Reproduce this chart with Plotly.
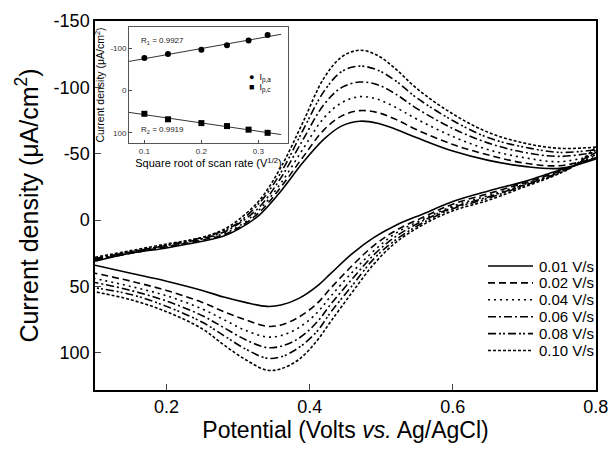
import numpy as np
import plotly.graph_objects as go

# ---------------- data ----------------
scan_rates = [0.01, 0.02, 0.04, 0.06, 0.08, 0.10]
series_labels = ["0.01 V/s", "0.02 V/s", "0.04 V/s", "0.06 V/s", "0.08 V/s", "0.10 V/s"]

# forward (anodic) sweep potentials, V
fwd_v = [0.10, 0.15, 0.20, 0.25, 0.28, 0.30, 0.33, 0.36, 0.39, 0.42, 0.445, 0.47,
         0.495, 0.52, 0.55, 0.60, 0.65, 0.70, 0.75, 0.80]
fwd_001 = [31, 25, 21, 16, 12, 7, -4, -22, -43, -61, -71, -74.5, -73, -68.5, -62, -52, -45, -40.5, -39, -46]
fwd_002 = [30, 25, 20, 15, 11, 6, -6, -25, -47, -68, -78.5, -82.5, -81, -76, -68, -57, -49, -43, -41, -47]
fwd_004 = [30, 24, 20, 14, 10, 5, -8, -28, -53, -77, -88.5, -93, -91, -85, -76, -63, -53, -47, -44, -49]
fwd_006 = [29, 24, 19, 14, 9, 3, -10, -32, -60, -87, -100, -104, -102, -95, -84, -69, -58, -51, -48, -51]
fwd_008 = [29, 24, 19, 13, 8, 2, -13, -36, -67, -97, -112, -116, -113, -105, -92, -75, -62, -55, -51, -53]
fwd_010 = [28, 23, 18, 13, 7, 0, -15, -40, -73, -107, -123, -128, -124, -114, -99, -80, -66, -58, -54, -55]

# reverse (cathodic) sweep potentials, V
rev_v = [0.80, 0.77, 0.74, 0.70, 0.65, 0.60, 0.56, 0.52, 0.49, 0.46, 0.43, 0.41, 0.385,
         0.36, 0.34, 0.31, 0.28, 0.25, 0.20, 0.15, 0.10]
rev_001 = [-46, -41, -36, -29, -22, -14, -5, 4, 13, 25, 40, 50, 59, 64, 65, 62, 58, 53, 46, 40, 34]
rev_002 = [-47, -41, -35, -28, -20, -12, -2.5, 8, 19, 34, 51, 63, 73, 79, 80, 75, 69, 62, 53, 46, 40]
rev_004 = [-49, -41, -34.5, -27, -18.5, -10.5, -1, 10, 23, 39, 57, 70, 81, 87, 88, 83, 75, 67, 57, 50, 44]
rev_006 = [-51, -41, -34, -26.5, -17.5, -9.5, 0, 12.5, 26, 44, 63, 77, 89, 95, 96, 90, 81, 72, 61, 53, 47]
rev_008 = [-53, -41, -33.5, -26, -16.5, -8.5, 1.5, 15, 29, 49, 69, 84, 96, 103, 104, 97, 87, 77, 65, 56, 51]
rev_010 = [-55, -41, -33, -25, -15, -7, 3, 17, 33, 54, 76, 91, 105, 112, 113, 105, 94, 82, 69, 60, 54]

# inset: peak currents vs square root of scan rate
ipa = [-77, -86, -96.5, -107, -118, -131]
ipc = [55, 68, 77, 84, 92.5, 100]
r_texts = ["R<sub>1</sub> = 0.9927", "R<sub>2</sub> = 0.9919"]
inset_legend_texts = ["●  I<sub>p,a</sub>", "■  I<sub>p,c</sub>"]
fit_x_range = [0.073, 0.34]

main_yticks = [-150, -100, -50, 0, 50, 100]
main_yticktext = ["-150", "-100", "-50", "0", "50", "100"]
main_xticks = [0.2, 0.4, 0.6, 0.8]
main_xticktext = ["0.2", "0.4", "0.6", "0.8"]
inset_yticks = [-100, 0, 100]
inset_yticktext = ["-100", "0", "100"]
inset_xticks = [0.1, 0.2, 0.3]
inset_xticktext = ["0.1", "0.2", "0.3"]

# ---------------- figure ----------------
FONT = "Arial, Liberation Sans, sans-serif"
W, H = 610, 450
ML, MR, MT, MB = 95, 14, 21, 60
PW, PH = W - ML - MR, H - MT - MB


def px_x(p):  # pixel -> paper x
    return (p - ML) / PW


def px_y(p):  # pixel -> paper y
    return (H - MB - p) / PH


dashes = ["solid", "7px,4px", "2px,4px", "8px,3px,2px,3px", "8px,3px,2px,2px,2px,3px", "3px,2px"]
fwd_all = [fwd_001, fwd_002, fwd_004, fwd_006, fwd_008, fwd_010]
rev_all = [rev_001, rev_002, rev_004, rev_006, rev_008, rev_010]

fig = go.Figure()
for lab, dsh, f, r in zip(series_labels, dashes, fwd_all, rev_all):
    fig.add_trace(go.Scatter(
        x=fwd_v + rev_v, y=f + r, mode="lines", name=lab, showlegend=False,
        line=dict(color="black", width=1.6, dash=dsh, shape="spline", smoothing=1.0),
        xaxis="x", yaxis="y"))

sq = list(np.sqrt(scan_rates))
for vals, sym in [(ipa, "circle"), (ipc, "square")]:
    k, b = np.polyfit(sq, vals, 1)
    fx = np.array(fit_x_range)
    fig.add_trace(go.Scatter(x=fx, y=k * fx + b, mode="lines",
                             line=dict(color="#333", width=1), showlegend=False,
                             xaxis="x2", yaxis="y2"))
    fig.add_trace(go.Scatter(x=sq, y=vals, mode="markers", showlegend=False,
                             marker=dict(symbol=sym, size=6, color="black"),
                             xaxis="x2", yaxis="y2"))

# R-value labels in the inset
fig.add_annotation(x=0.09, y=-117, xref="x2", yref="y2", text=r_texts[0], showarrow=False,
                   xanchor="left", yanchor="middle", font=dict(size=8, family=FONT, color="#222"))
fig.add_annotation(x=0.09, y=93, xref="x2", yref="y2", text=r_texts[1], showarrow=False,
                   xanchor="left", yanchor="middle", font=dict(size=8, family=FONT, color="#222"))
# inset legend
for i, t in enumerate(inset_legend_texts):
    fig.add_annotation(x=px_x(247), y=px_y(78 + 10 * i), xref="paper", yref="paper", text=t,
                       showarrow=False, xanchor="left", yanchor="middle",
                       font=dict(size=9, family=FONT, color="black"))

# main legend (sample lines + labels)
for i, (lab, dsh) in enumerate(zip(series_labels, dashes)):
    yy = px_y(266 + 16.9 * i)
    fig.add_shape(type="line", xref="paper", yref="paper", x0=px_x(488), x1=px_x(533),
                  y0=yy, y1=yy, line=dict(color="black", width=1.6, dash=dsh))
    fig.add_annotation(x=px_x(537), y=yy, xref="paper", yref="paper", text=lab,
                       showarrow=False, xanchor="left", yanchor="middle",
                       font=dict(size=15, family=FONT, color="black"))

fig.update_layout(
    width=W, height=H,
    margin=dict(l=ML, r=MR, t=MT, b=MB),
    paper_bgcolor="white", plot_bgcolor="white",
    font=dict(family=FONT, color="black"),
    showlegend=False,
    xaxis=dict(range=[0.1, 0.8002], tickvals=main_xticks, ticktext=main_xticktext,
               ticks="inside", ticklen=6, tickwidth=1.2, showline=True, linecolor="black",
               linewidth=1.5, mirror=True, showgrid=False, zeroline=False, automargin=False,
               tickfont=dict(size=18), ticklabeloverflow="allow",
               title=dict(text="Potential (Volts <i>vs.</i> Ag/AgCl)", font=dict(size=23), standoff=6)),
    yaxis=dict(range=[128, -150], tickvals=main_yticks, ticktext=main_yticktext,
               ticks="inside", ticklen=6, tickwidth=1.2, showline=True, linecolor="black",
               linewidth=1.5, mirror=True, showgrid=False, zeroline=False, automargin=False,
               tickfont=dict(size=18),
               title=dict(text="Current density (μA/cm<sup>2</sup>)", font=dict(size=25), standoff=8)),
    xaxis2=dict(domain=[px_x(129), px_x(288)], anchor="y2", range=[0.073, 0.352],
                tickvals=inset_xticks, ticktext=inset_xticktext, automargin=False,
                ticks="inside", ticklen=3, showline=True, linecolor="#555", linewidth=1, mirror=True,
                showgrid=False, zeroline=False, tickfont=dict(size=8, color="#333"),
                title=dict(text="Square root of scan rate (V<sup>1/2</sup>)", font=dict(size=11), standoff=3)),
    yaxis2=dict(domain=[px_y(143), px_y(27)], anchor="x2", range=[124, -150],
                tickvals=inset_yticks, ticktext=inset_yticktext, automargin=False,
                ticks="inside", ticklen=3, showline=True, linecolor="#555", linewidth=1, mirror=True,
                showgrid=False, zeroline=False, tickfont=dict(size=8, color="#333"),
                title=dict(text="Current density (μA/cm<sup>2</sup>)", font=dict(size=10.5), standoff=3)),
)

fig.write_html("out.html", config={"displayModeBar": False},
               post_script="document.body.style.margin='0';")
